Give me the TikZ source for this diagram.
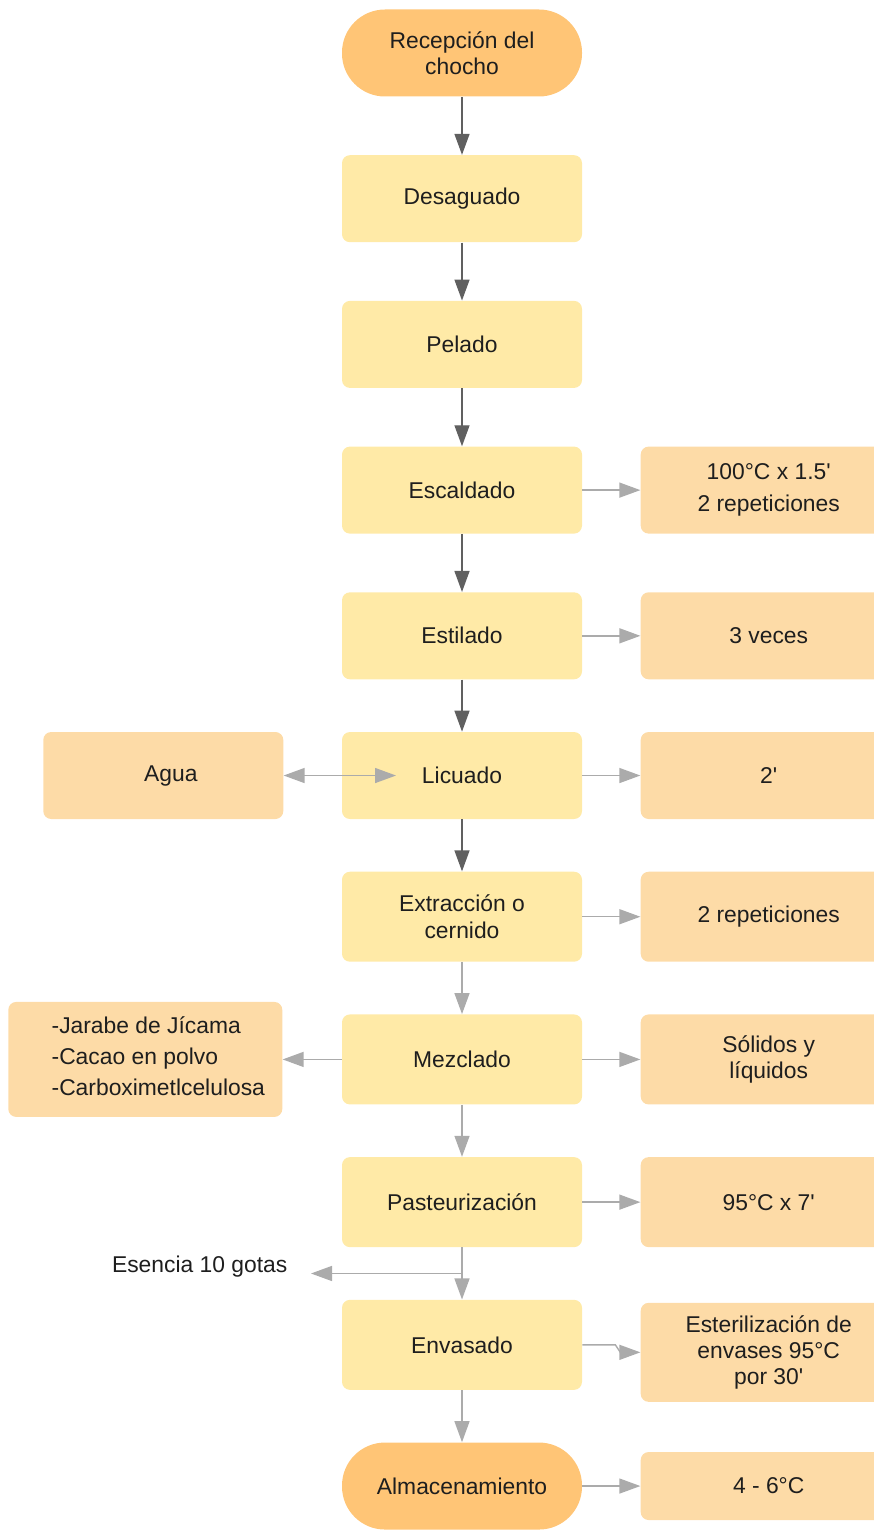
\documentclass[tikz,border=0pt]{standalone}
\usepackage{fontspec}
\setmainfont{Liberation Sans}
\usetikzlibrary{arrows.meta, positioning, calc}
\definecolor{amarilloPaso}{HTML}{FFEAA7}
\definecolor{naranjaDato}{HTML}{FDDBA7}
\definecolor{naranjaExtremo}{HTML}{FFC576}
\definecolor{grisOscuro}{HTML}{606060}
\definecolor{grisClaro}{HTML}{ABABAB}
\definecolor{textoNegro}{HTML}{1E1E1E}

\begin{document}
\begin{tikzpicture}[font=\fontsize{13}{15}\selectfont, text=textoNegro,
        >={Triangle[length=4.2mm, width=3mm]}, node distance=1.04cm and 1.16cm,
        paso/.style={fill=amarilloPaso, rounded corners=4.5pt,
            minimum width=4.8cm, minimum height=1.74cm, align=center},
        dato/.style={fill=naranjaDato, rounded corners=4.5pt,
            minimum width=5.12cm, minimum height=1.74cm, align=center},
        term/.style={fill=naranjaExtremo, rounded corners=0.86cm,
            minimum width=4.8cm, minimum height=1.74cm, align=center},
        alto/.style={minimum height=1.8cm},
        rel/.style={->, grisOscuro, line width=0.8pt},
        relc/.style={->, grisClaro, line width=0.8pt}]
        \useasboundingbox (0,0) rectangle (17.46,-30.66);
        % proceso principal
        \node[term] (rec) at (9.24,-1.06) {Recepción del\\chocho};
        \node[paso, below=1.16cm of rec] (des) {Desaguado};
        \node[paso, below=1.16cm of des] (pel) {Pelado};
        \node[paso, below=1.16cm of pel] (esc) {Escaldado};
        \node[paso, below=1.16cm of esc] (est) {Estilado};
        \node[paso, below=of est] (lic) {Licuado};
        \node[paso, alto, below=of lic] (ext) {Extracción o\\cernido};
        \node[paso, alto, below=of ext] (mez) {Mezclado};
        \node[paso, alto, below=of mez] (pas) {Pasteurización};
        \node[paso, alto, below=of pas] (env) {Envasado};
        \node[term, below=of env] (alm) {Almacenamiento};
        % condiciones
        \node[dato, right=of esc] (cEsc) {100°C x 1.5\textquotesingle\\[3pt]2 repeticiones};
        \node[dato, right=of est] (cEst) {3 veces};
        \node[dato, right=of lic] (cLic) {2\textquotesingle};
        \node[dato, alto, right=of ext] (cExt) {2 repeticiones};
        \node[dato, alto, right=of mez] (cMez) {Sólidos y\\líquidos};
        \node[dato, alto, right=of pas] (cPas) {95°C x 7\textquotesingle};
        \node[dato, right=of env, yshift=-0.15cm, minimum height=1.98cm] (cEnv)
            {Esterilización de\\envases 95°C\\por 30\textquotesingle};
        \node[dato, right=of alm, minimum height=1.36cm] (cAlm) {4 - 6°C};
        % insumos
        \node[dato, left=of lic, minimum width=4.8cm] (agua) {\hspace*{0.3cm}Agua};
        \node[dato, left=1.18cm of mez, minimum width=5.48cm, minimum height=2.3cm] (ing)
            {\hspace*{0.52cm}\begin{tabular}{@{}l@{}}-Jarabe de Jícama\\[2.6pt]-Cacao en polvo\\[2.6pt]-Carboximetlcelulosa\end{tabular}};
        \coordinate (jn) at ($(pas.south)!0.5!(env.north)$);
        \coordinate[left=3.02cm of jn] (eseTip);
        \node[left=0.35cm of eseTip, yshift=0.14cm] (ese) {Esencia 10 gotas};
        \coordinate (aguaTip) at ([xshift=-1.32cm]lic.center);
        % flechas
        \draw[rel] (rec) -- (des);
        \draw[rel] (des) -- (pel);
        \draw[rel] (pel) -- (esc);
        \draw[rel] (esc) -- (est);
        \draw[rel] (est) -- (lic);
        \draw[rel] (lic) -- (ext);
        \draw[relc] (ext) -- (mez);
        \draw[relc] (mez) -- (pas);
        \draw[relc] (pas) -- (env);
        \draw[relc] (env) -- (alm);
        \draw[relc] (esc) -- (cEsc);
        \draw[relc] (est) -- (cEst);
        \draw[relc] (lic) -- (cLic);
        \draw[relc] (ext) -- (cExt);
        \draw[relc] (mez) -- (cMez);
        \draw[relc] (pas) -- (cPas);
        \draw[relc] (env.east) -- ([xshift=-0.5cm]cEnv.west |- env.east)
            -- ([xshift=-0.4cm]cEnv.west) -- (cEnv.west);
        \draw[relc] (alm) -- (cAlm);
        \draw[relc, <->] (agua.east) -- (aguaTip);
        \draw[relc] (mez) -- (ing);
        \draw[relc] (jn) -- (eseTip);
    \end{tikzpicture}
\end{document}
